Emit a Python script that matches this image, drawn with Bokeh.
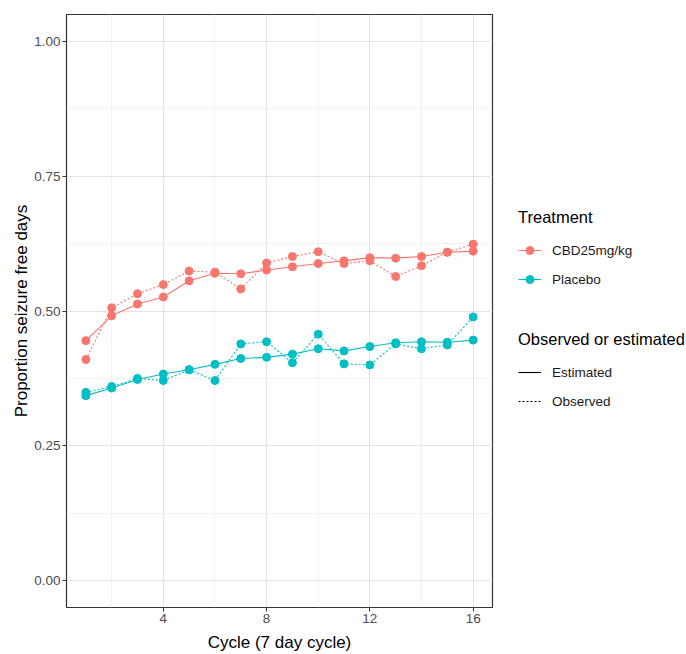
from bokeh.plotting import figure
from bokeh.layouts import row
from bokeh.models import Range1d, FixedTicker, NumeralTickFormatter, Legend, LegendItem
from bokeh.embed import file_html
from bokeh.resources import INLINE

cycles = list(range(1, 17))
cbd_est = [0.445, 0.491, 0.513, 0.526, 0.556, 0.570, 0.569, 0.576, 0.582, 0.588, 0.593, 0.599, 0.598, 0.601, 0.609, 0.611]
cbd_obs = [0.410, 0.506, 0.532, 0.549, 0.574, 0.572, 0.541, 0.589, 0.601, 0.610, 0.588, 0.593, 0.564, 0.584, 0.609, 0.624]
pla_est = [0.343, 0.357, 0.373, 0.383, 0.391, 0.401, 0.412, 0.414, 0.420, 0.430, 0.426, 0.434, 0.441, 0.443, 0.442, 0.446]
pla_obs = [0.349, 0.360, 0.375, 0.371, 0.391, 0.371, 0.439, 0.443, 0.404, 0.457, 0.402, 0.400, 0.439, 0.430, 0.437, 0.489]

x_ticks = [4, 8, 12, 16]
x_minor = [2, 6, 10, 14]
y_ticks = [0.0, 0.25, 0.5, 0.75, 1.0]
y_minor = [0.125, 0.375, 0.625, 0.875]

treatments = ["CBD25mg/kg", "Placebo"]
colors = ["#F8766D", "#00BFC4"]

FONT = "Liberation Sans"

p = figure(width=494, height=654, output_backend="svg", toolbar_location=None,
           x_range=Range1d(0.25, 16.75), y_range=Range1d(-0.05, 1.05),
           min_border_left=66, min_border_right=2, min_border_top=14, min_border_bottom=46)

p.background_fill_color = "white"
p.outline_line_color = "#333333"
p.outline_line_width = 1.2

# grids
p.xgrid.ticker = FixedTicker(ticks=x_ticks, minor_ticks=x_minor)
p.ygrid.ticker = FixedTicker(ticks=y_ticks, minor_ticks=y_minor)
for g in (p.xgrid, p.ygrid):
    g.grid_line_color = "#E3E3E3"
    g.grid_line_width = 1
    g.minor_grid_line_color = "#EFEFEF"
    g.minor_grid_line_width = 0.8

p.xaxis.ticker = FixedTicker(ticks=x_ticks)
p.yaxis.ticker = FixedTicker(ticks=y_ticks)
p.yaxis.formatter = NumeralTickFormatter(format="0.00")

for ax in (p.xaxis, p.yaxis):
    ax.axis_line_color = None
    ax.major_tick_line_color = "#333333"
    ax.major_tick_out = 4
    ax.major_tick_in = 0
    ax.minor_tick_line_color = None
    ax.major_label_text_font = FONT
    ax.major_label_text_color = "#4D4D4D"
    ax.major_label_text_font_size = "13.5px"
    ax.major_label_standoff = 2
    ax.axis_label_text_font = FONT
    ax.axis_label_text_font_style = "normal"
    ax.axis_label_text_font_size = "17px"
    ax.axis_label_text_color = "#000000"
p.xaxis.axis_label_standoff = 7
p.yaxis.axis_label_standoff = 0

p.xaxis.axis_label = "Cycle (7 day cycle)"
p.yaxis.axis_label = "Proportion seizure free days"

series = [(cbd_est, cbd_obs, colors[0]), (pla_est, pla_obs, colors[1])]
for est, obs, c in series:
    p.line(cycles, est, line_color=c, line_width=1.1)
    p.line(cycles, obs, line_color=c, line_width=1.1, line_dash="2 2")
    p.scatter(cycles, est, size=8, fill_color=c, line_color=c)
    p.scatter(cycles, obs, size=8, fill_color=c, line_color=c)

# legend panel (keys drawn from off-screen dummy renderers)
lf = figure(width=192, height=654, output_backend="svg", toolbar_location=None,
            x_range=Range1d(0, 1), y_range=Range1d(0, 1),
            x_axis_type=None, y_axis_type=None, min_border=0)
lf.outline_line_color = None
lf.grid.visible = False

off_x = [-10, -9]
off_y = [-10, -9]
treat_items = []
for name, c in zip(treatments, colors):
    dl = lf.line(x=off_x, y=off_y, line_color=c, line_width=1.1)
    ds = lf.scatter(x=off_x, y=off_y, size=6, fill_color=c, line_color=c)
    treat_items.append(LegendItem(label=name, renderers=[dl, ds]))

d_est = lf.line(x=off_x, y=off_y, line_color="black", line_width=1.1)
d_obs = lf.line(x=off_x, y=off_y, line_color="black", line_width=1.1, line_dash="2 2")
type_items = [LegendItem(label="Estimated", renderers=[d_est]),
              LegendItem(label="Observed", renderers=[d_obs])]


def make_legend(title, items, loc):
    lg = Legend(title=title, items=items, location=loc)
    lg.title_text_font = FONT
    lg.title_text_font_size = "16.5px"
    lg.title_text_font_style = "normal"
    lg.title_text_color = "#000000"
    lg.title_standoff = 13
    lg.label_text_font = FONT
    lg.label_text_font_size = "13.5px"
    lg.label_text_color = "#1A1A1A"
    lg.label_standoff = 11
    lg.glyph_width = 23
    lg.glyph_height = 20
    lg.label_height = 20
    lg.spacing = 9
    lg.padding = 0
    lg.margin = 0
    lg.border_line_color = None
    lg.background_fill_alpha = 0
    return lg


lf.add_layout(make_legend("Treatment", treat_items, (24, 318)))
lf.add_layout(make_legend("Observed or estimated", type_items, (24, 196)))

layout = row(p, lf)
open("out.html", "w").write(file_html(layout, INLINE))
